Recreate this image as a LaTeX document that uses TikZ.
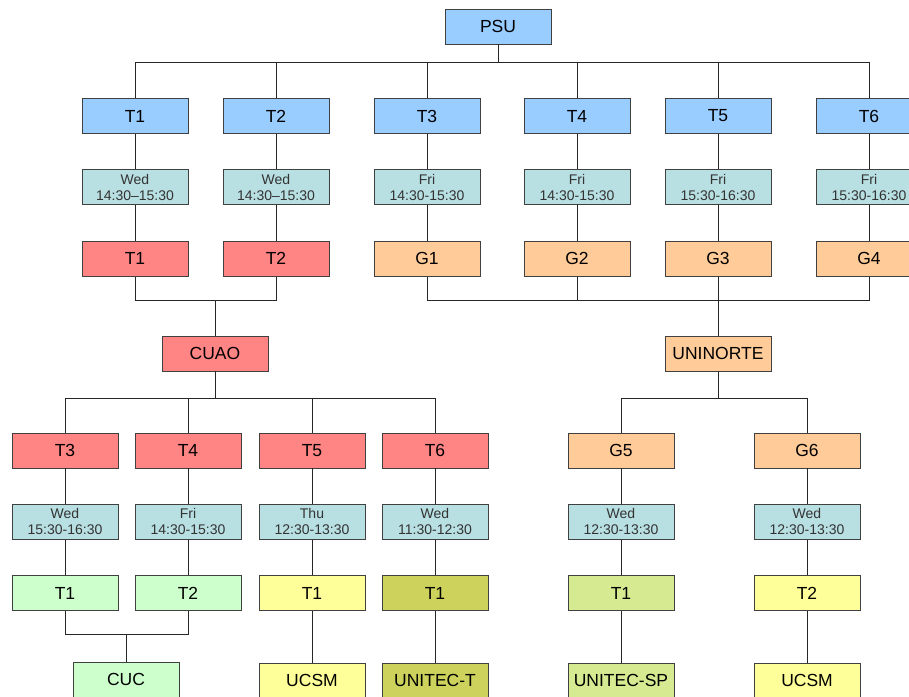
\documentclass[tikz,border=0pt]{standalone}
\usepackage{fontspec}
\setmainfont{Liberation Sans}
\usepackage{xcolor}
\usepackage{tikz}
\usetikzlibrary{positioning}
\definecolor{psublue}{HTML}{99CCFF}
\definecolor{slotcyan}{HTML}{B8DFE2}
\definecolor{cuaored}{HTML}{FF8484}
\definecolor{uniorange}{HTML}{FFCC99}
\definecolor{cucgreen}{HTML}{CCFFCC}
\definecolor{ucsmyellow}{HTML}{FFFF99}
\definecolor{tecolive}{HTML}{CCD25C}
\definecolor{splime}{HTML}{D5EA91}
\definecolor{edgegray}{HTML}{404040}

\begin{document}
\begin{tikzpicture}[
    x=1pt, y=-1pt,
    node distance=35.5pt,
    box/.style={draw=edgegray, line width=0.8pt, inner sep=0pt, minimum width=106pt, minimum height=35pt, align=center, font=\fontsize{17.5}{19}\selectfont},
    slot/.style={box, fill=slotcyan, text=black!80, font=\fontsize{14}{16}\selectfont},
    link/.style={draw=black!85, line width=0.7pt}
]
\useasboundingbox (0,0) rectangle (909,696);

% top level
\node[box, fill=psublue] (psu) at (498,26.5) {PSU};

\node[box, fill=psublue] (t1) at (135,116) {T1};
\node[box, fill=psublue] (t2) at (276,116) {T2};
\node[box, fill=psublue] (t3) at (427,116) {T3};
\node[box, fill=psublue] (t4) at (577,116) {T4};
\node[box, fill=psublue] (t5) at (718,116) {T5};
\node[box, fill=psublue] (t6) at (869,116) {T6};

\node[slot, below=of t1] (s1) {Wed\\14:30--15:30};
\node[slot, below=of t2] (s2) {Wed\\14:30--15:30};
\node[slot, below=of t3] (s3) {Fri\\14:30-15:30};
\node[slot, below=of t4] (s4) {Fri\\14:30-15:30};
\node[slot, below=of t5] (s5) {Fri\\15:30-16:30};
\node[slot, below=of t6] (s6) {Fri\\15:30-16:30};

\node[box, fill=cuaored, below=of s1] (r1) {T1};
\node[box, fill=cuaored, below=of s2] (r2) {T2};
\node[box, fill=uniorange, below=of s3] (g1) {G1};
\node[box, fill=uniorange, below=of s4] (g2) {G2};
\node[box, fill=uniorange, below=of s5] (g3) {G3};
\node[box, fill=uniorange, below=of s6] (g4) {G4};

% second level
\node[box, fill=cuaored] (cuao) at (215,353.5) {CUAO};
\node[box, fill=uniorange] (uninorte) at (718,353.5) {UNINORTE};

\node[box, fill=cuaored] (ct3) at (65,450.5) {T3};
\node[box, fill=cuaored] (ct4) at (188,450.5) {T4};
\node[box, fill=cuaored] (ct5) at (312,450.5) {T5};
\node[box, fill=cuaored] (ct6) at (435,450.5) {T6};
\node[box, fill=uniorange] (g5) at (621,450.5) {G5};
\node[box, fill=uniorange] (g6) at (807,450.5) {G6};

\node[slot, below=of ct3] (s7) {Wed\\15:30-16:30};
\node[slot, below=of ct4] (s8) {Fri\\14:30-15:30};
\node[slot, below=of ct5] (s9) {Thu\\12:30-13:30};
\node[slot, below=of ct6] (s10) {Wed\\11:30-12:30};
\node[slot, below=of g5] (s11) {Wed\\12:30-13:30};
\node[slot, below=of g6] (s12) {Wed\\12:30-13:30};

\node[box, fill=cucgreen, below=of s7] (cu1) {T1};
\node[box, fill=cucgreen, below=of s8] (cu2) {T2};
\node[box, fill=ucsmyellow, below=of s9] (um1) {T1};
\node[box, fill=tecolive, below=of s10] (te1) {T1};
\node[box, fill=splime, below=of s11] (sp1) {T1};
\node[box, fill=ucsmyellow, below=of s12] (um2) {T2};

% bottom level
\node[box, fill=cucgreen] (cuc) at (126,679.5) {CUC};
\node[box, fill=ucsmyellow, below=52pt of um1] (ucsm1) {UCSM};
\node[box, fill=tecolive, below=52pt of te1] (unitect) {UNITEC-T};
\node[box, fill=splime, below=52pt of sp1] (unitecsp) {UNITEC-SP};
\node[box, fill=ucsmyellow, below=52pt of um2] (ucsm2) {UCSM};

% connectors
\draw[link] (psu.south) -- ++(0,18) -| (t1.north);
\draw[link] (psu.south) -- ++(0,18) -| (t2.north);
\draw[link] (psu.south) -- ++(0,18) -| (t3.north);
\draw[link] (psu.south) -- ++(0,18) -| (t4.north);
\draw[link] (psu.south) -- ++(0,18) -| (t5.north);
\draw[link] (psu.south) -- ++(0,18) -| (t6.north);

\draw[link] (t1) -- (s1) -- (r1);
\draw[link] (t2) -- (s2) -- (r2);
\draw[link] (t3) -- (s3) -- (g1);
\draw[link] (t4) -- (s4) -- (g2);
\draw[link] (t5) -- (s5) -- (g3);
\draw[link] (t6) -- (s6) -- (g4);

\draw[link] (cuao.north) -- ++(0,-35) -| (r1.south);
\draw[link] (cuao.north) -- ++(0,-35) -| (r2.south);
\draw[link] (uninorte.north) -- ++(0,-35) -| (g1.south);
\draw[link] (uninorte.north) -- ++(0,-35) -| (g2.south);
\draw[link] (uninorte.north) -- ++(0,-35) -| (g3.south);
\draw[link] (uninorte.north) -- ++(0,-35) -| (g4.south);

\draw[link] (cuao.south) -- ++(0,27) -| (ct3.north);
\draw[link] (cuao.south) -- ++(0,27) -| (ct4.north);
\draw[link] (cuao.south) -- ++(0,27) -| (ct5.north);
\draw[link] (cuao.south) -- ++(0,27) -| (ct6.north);
\draw[link] (uninorte.south) -- ++(0,27) -| (g5.north);
\draw[link] (uninorte.south) -- ++(0,27) -| (g6.north);

\draw[link] (ct3) -- (s7) -- (cu1);
\draw[link] (ct4) -- (s8) -- (cu2);
\draw[link] (ct5) -- (s9) -- (um1);
\draw[link] (ct6) -- (s10) -- (te1);
\draw[link] (g5) -- (s11) -- (sp1);
\draw[link] (g6) -- (s12) -- (um2);

\draw[link] (cuc.north) -- ++(0,-27) -| (cu1.south);
\draw[link] (cuc.north) -- ++(0,-27) -| (cu2.south);
\draw[link] (um1) -- (ucsm1);
\draw[link] (te1) -- (unitect);
\draw[link] (sp1) -- (unitecsp);
\draw[link] (um2) -- (ucsm2);

\end{tikzpicture}
\end{document}
